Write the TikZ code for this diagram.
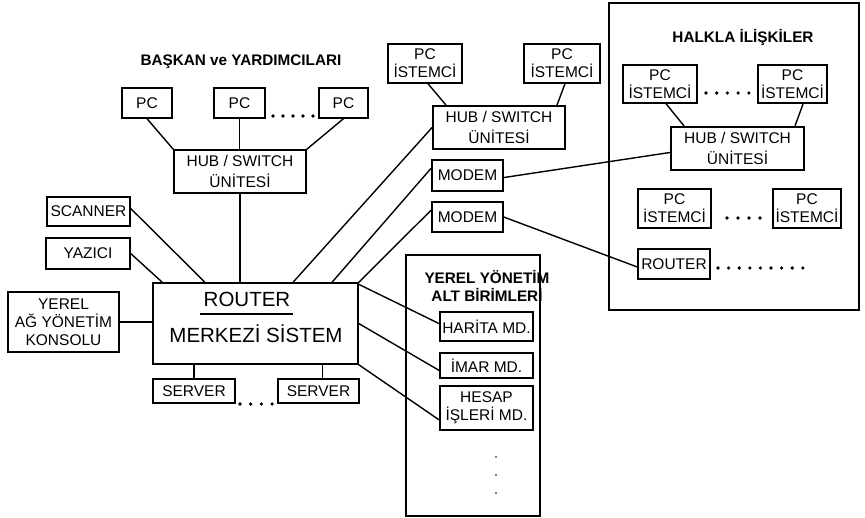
\documentclass[tikz,border=0pt]{standalone}
\usepackage{fontspec}
\setmainfont{Liberation Sans}
\begin{document}
\begin{tikzpicture}[x=1pt,y=-1pt,
  line width=1.4pt,
  box/.style={draw,rectangle,inner sep=0pt,align=center,font=\fontsize{15.5}{18}\selectfont},
  thickbox/.style={box,line width=2.2pt},
  grp/.style={draw,rectangle,inner sep=0pt},
  ttl/.style={font=\fontsize{15.3}{18}\selectfont\bfseries,align=center,inner sep=0pt},
  dot/.style={circle,fill,inner sep=0pt,minimum size=3.6pt},
  sdot/.style={circle,fill,inner sep=0pt,minimum size=1.8pt}]
\useasboundingbox (0,0) rectangle (865,517);

% group boxes
\node[grp,minimum width=250pt,minimum height=307pt] (halkla) at (734,156.5) {};
\node[grp,minimum width=134pt,minimum height=261pt] (yerel) at (473,385.5) {};

% titles
\node[ttl] (t1) at (241,62) {BAŞKAN ve YARDIMCILARI};
\node[ttl] (t2) at (743,38) {HALKLA İLİŞKİLER};
\node[ttl,font=\fontsize{15.3}{18.5}\selectfont\bfseries] (t3) at (487,286) {YEREL YÖNETİM\\ALT BİRİMLERİ};

% Baskan group
\node[box,minimum width=50pt,minimum height=30pt] (pc1) at (147,103) {PC};
\node[box,minimum width=51pt,minimum height=30pt] (pc2) at (239.5,103) {PC};
\node[box,minimum width=49pt,minimum height=30pt] (pc3) at (343.5,103) {PC};
\node[box,minimum width=132pt,minimum height=43pt,font=\fontsize{15.5}{21}\selectfont] (hub1) at (240,171.5) {HUB / SWITCH\\ÜNİTESİ};
\foreach \i in {0,...,4} \node[dot] (da\i) at (273+10*\i,116) {};

% left devices
\node[box,minimum width=83pt,minimum height=29pt] (scanner) at (88.5,211.5) {SCANNER};
\node[box,minimum width=84pt,minimum height=31pt] (yazici) at (88,253.5) {YAZICI};
\node[box,minimum width=111pt,minimum height=60pt] (konsol) at (63.5,322) {YEREL\\AĞ YÖNETİM\\KONSOLU};

% router
\node[draw,rectangle,inner sep=0pt,minimum width=205pt,minimum height=81pt] (router) at (255.5,323.5) {};
\node[inner sep=0pt,font=\fontsize{20.5}{24}\selectfont] (rtxt) at (247,299) {ROUTER};
\node[inner sep=0pt,font=\fontsize{20.5}{24}\selectfont] (mtxt) at (256,334) {MERKEZİ SİSTEM};
\coordinate (ul1) at (200,314);
\coordinate (ul2) at (293,314);
\draw (ul1) -- (ul2);

% servers
\node[box,minimum width=82pt,minimum height=24pt] (srv1) at (194,391) {SERVER};
\node[box,minimum width=81pt,minimum height=24pt] (srv2) at (318.5,391) {SERVER};
\foreach \i in {0,...,3} \node[dot] (ds\i) at (240+10.7*\i,404) {};

% middle top group
\node[box,minimum width=74pt,minimum height=39pt] (pcA) at (425,63.5) {PC\\İSTEMCİ};
\node[box,minimum width=76pt,minimum height=39pt] (pcB) at (562,63.5) {PC\\İSTEMCİ};
\node[thickbox,line width=1.8pt,minimum width=132pt,minimum height=43pt,font=\fontsize{15.5}{21}\selectfont] (hub2) at (499,127.5) {HUB / SWITCH\\ÜNİTESİ};
\node[thickbox,minimum width=71pt,minimum height=31pt] (modem1) at (467.5,175.5) {MODEM};
\node[box,minimum width=71pt,minimum height=30pt] (modem2) at (467.5,217) {MODEM};

% halkla group
\node[box,minimum width=74pt,minimum height=38pt] (pcC) at (660,84) {PC\\İSTEMCİ};
\node[thickbox,minimum width=69pt,minimum height=38pt] (pcD) at (792.5,84) {PC\\İSTEMCİ};
\foreach \i in {0,...,4} \node[dot] (db\i) at (706+10.7*\i,93) {};
\node[thickbox,minimum width=133pt,minimum height=43pt,font=\fontsize{15.5}{21}\selectfont] (hub3) at (737.5,148.5) {HUB / SWITCH\\ÜNİTESİ};
\node[box,minimum width=73pt,minimum height=39pt] (pcE) at (674.5,208.5) {PC\\İSTEMCİ};
\node[box,minimum width=68pt,minimum height=39pt] (pcF) at (807,208.5) {PC\\İSTEMCİ};
\foreach \i in {0,...,3} \node[dot] (dc\i) at (727+11*\i,218) {};
\node[box,minimum width=72pt,minimum height=30pt] (router2) at (674,264) {ROUTER};
\foreach \i in {0,...,8} \node[dot] (dd\i) at (718+10.6*\i,268) {};

% yerel group
\node[thickbox,minimum width=93pt,minimum height=29pt] (harita) at (486.5,326.5) {HARİTA MD.};
\node[box,minimum width=93pt,minimum height=25pt] (imar) at (486.5,365.5) {İMAR MD.};
\node[box,minimum width=93pt,minimum height=44pt] (hesap) at (486.5,408) {HESAP\\İŞLERİ MD.};
\foreach \i in {0,1,2} \node[sdot] (dv\i) at (496,457+18*\i) {};

% connectors
\draw (pc1.south) -- (hub1.north west);
\draw (pc2.south) -- (pc2.south |- hub1.north);
\draw (pc3.south) -- (hub1.north east);
\draw (hub1.south) -- (hub1.south |- router.north);
\draw ([yshift=3pt]scanner.east) -- ([xshift=-50.5pt]router.north);
\draw (yazici.east) -- ([xshift=10pt]router.north west);
\draw (konsol.east) -- (konsol.east -| router.west);
\draw ([xshift=37.5pt]router.north) -- ([yshift=0pt]hub2.west);
\draw ([xshift=76.5pt]router.north) -- ([yshift=7pt]modem1.west);
\draw (router.north east) -- ([yshift=7pt]modem2.west);
\draw ([xshift=3pt]pcA.south) -- ([xshift=-53pt]hub2.north);
\draw ([xshift=3pt]pcB.south) -- ([xshift=58pt]hub2.north);
\draw ([yshift=-2pt]modem1.east) -- ([yshift=-4pt]hub3.west);
\draw (modem2.east) -- ([yshift=-3pt]router2.west);
\draw ([xshift=6pt]pcC.south) -- ([xshift=-53.5pt]hub3.north);
\draw ([xshift=10.5pt]pcD.south) -- ([xshift=57.5pt]hub3.north);
\draw ([yshift=-2pt]router.north east) -- ([yshift=3pt]harita.west);
\draw (router.east) -- ([yshift=-5pt]imar.west);
\draw (router.south east) -- ([yshift=-12pt]hesap.west);
\draw (srv1.north) -- (srv1.north |- router.south);
\draw ([xshift=4pt]srv2.north) -- ([xshift=4pt]srv2.north |- router.south);
\end{tikzpicture}
\end{document}
